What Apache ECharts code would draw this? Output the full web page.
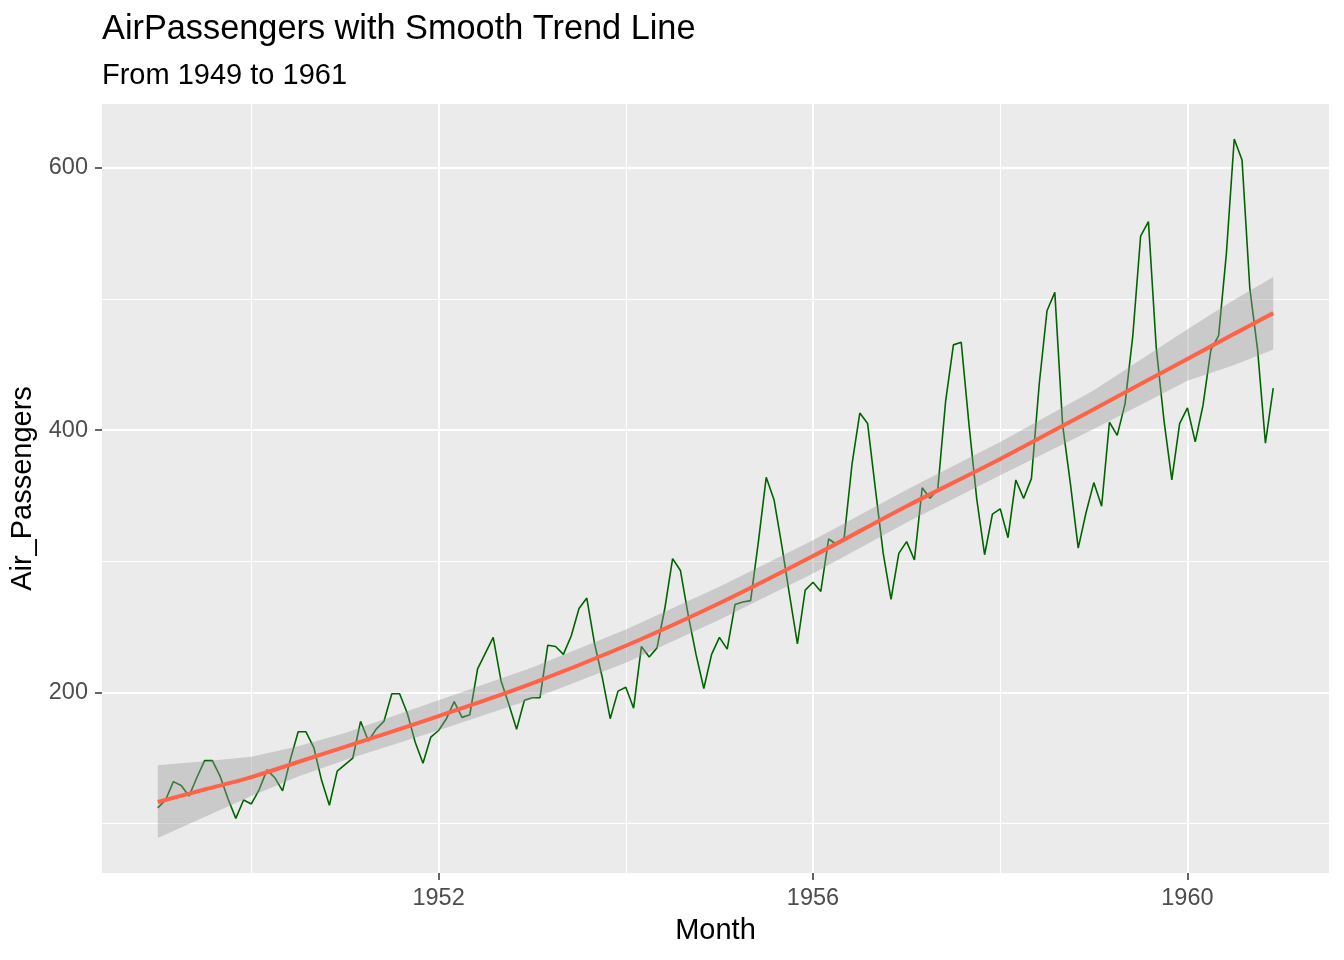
<!DOCTYPE html>
<html>
<head>
<meta charset="utf-8">
<script src="https://cdn.jsdelivr.net/npm/echarts@6/dist/echarts.min.js"></script>
<style>
html,body{margin:0;padding:0;background:#fff;}
#chart{width:1344px;height:960px;}
</style>
</head>
<body>
<div id="chart"></div>
<script>
// ---- Data (AirPassengers, monthly, 1949-1960) ----
const startYear = 1949;
const p1949 = [112, 118, 132, 129, 121, 135, 148, 148, 136, 119, 104, 118];
const p1950 = [115, 126, 141, 135, 125, 149, 170, 170, 158, 133, 114, 140];
const p1951 = [145, 150, 178, 163, 172, 178, 199, 199, 184, 162, 146, 166];
const p1952 = [171, 180, 193, 181, 183, 218, 230, 242, 209, 191, 172, 194];
const p1953 = [196, 196, 236, 235, 229, 243, 264, 272, 237, 211, 180, 201];
const p1954 = [204, 188, 235, 227, 234, 264, 302, 293, 259, 229, 203, 229];
const p1955 = [242, 233, 267, 269, 270, 315, 364, 347, 312, 274, 237, 278];
const p1956 = [284, 277, 317, 313, 318, 374, 413, 405, 355, 306, 271, 306];
const p1957 = [315, 301, 356, 348, 355, 422, 465, 467, 404, 347, 305, 336];
const p1958 = [340, 318, 362, 348, 363, 435, 491, 505, 404, 359, 310, 337];
const p1959 = [360, 342, 406, 396, 420, 472, 548, 559, 463, 407, 362, 405];
const p1960 = [417, 391, 419, 461, 472, 535, 622, 606, 508, 461, 390, 432];
const yearly = [p1949, p1950, p1951, p1952, p1953, p1954, p1955, p1956, p1957, p1958, p1959, p1960];

// ---- Smooth trend (loess) ----
const trendX     = [1949, 1949.5, 1950, 1950.5, 1951, 1952, 1953, 1954, 1955, 1956, 1957, 1958, 1959, 1960, 1960.5, 1960.917];
const trendFit   = [116.5, 126, 135.5, 147, 158.5, 182, 207, 235.6, 268, 304, 342, 378, 416, 454.3, 473.4, 489.2];
const trendLower = [89, 105, 121, 136, 148.5, 171.2, 195, 222.6, 255.5, 290.6, 329.5, 365.6, 400.8, 437.7, 449.7, 461.4];
const trendUpper = [144.5, 147.5, 151, 159, 169, 194, 219, 248, 280.5, 316, 354.5, 391, 430.5, 477, 499.5, 516.8];

// ---- Axis ticks ----
const xMajorTicks = [1952, 1956, 1960];
const xMinorTicks = [1950, 1952, 1954, 1956, 1958, 1960];
const yMajorTicks = [200, 400, 600];
const yMinorTicks = [100, 200, 300, 400, 500, 600];

// ---- Build series data ----
const passengerPoints = [];
yearly.forEach((arr, yi) => {
  arr.forEach((v, m) => passengerPoints.push([startYear + yi + m / 12, v]));
});
const bandPoints = trendX.map((x, i) => [x, trendLower[i], trendUpper[i]]);
const fitPoints = trendX.map((x, i) => [x, trendFit[i]]);

const FONT = "'Liberation Sans', Arial, sans-serif";
const xMin = 1948.404, xMax = 1961.5125;
const yMin = 62.35, yMax = 648.65;

const chart = echarts.init(document.getElementById('chart'), null, {renderer: 'canvas'});
chart.setOption({
  animation: false,
  backgroundColor: '#ffffff',
  title: [
    {text: 'AirPassengers with Smooth Trend Line', left: 102, top: 13, padding: 0,
     textStyle: {fontFamily: FONT, fontSize: 34.3, fontWeight: 'normal', color: '#000'}},
    {text: 'From 1949 to 1961', left: 102, top: 61, padding: 0,
     textStyle: {fontFamily: FONT, fontSize: 29, fontWeight: 'normal', color: '#000'}}
  ],
  grid: {left: 102, right: 15, top: 104, bottom: 87, show: true, backgroundColor: '#EBEBEB', borderWidth: 0},
  xAxis: [
    {
      type: 'value', min: xMin, max: xMax,
      name: 'Month', nameLocation: 'middle', nameGap: 43,
      nameTextStyle: {fontFamily: FONT, fontSize: 29, color: '#000'},
      axisLine: {show: false},
      axisTick: {show: true, length: 7, customValues: xMajorTicks, lineStyle: {color: '#333333', width: 1.5}},
      axisLabel: {customValues: xMajorTicks,
                  fontFamily: FONT, fontSize: 23.5, color: '#4D4D4D', margin: 14,
                  formatter: v => String(Math.round(v))},
      splitLine: {show: true, lineStyle: {color: '#ffffff', width: 2}}
    },
    {
      type: 'value', min: xMin, max: xMax, position: 'top',
      axisLine: {show: false},
      axisTick: {show: false, customValues: xMinorTicks},
      axisLabel: {show: false, customValues: xMinorTicks},
      splitLine: {show: true, lineStyle: {color: '#ffffff', width: 1.1}}
    }
  ],
  yAxis: [
    {
      type: 'value', min: yMin, max: yMax,
      name: 'Air_Passengers', nameLocation: 'middle', nameGap: 54, nameRotate: 90,
      nameTextStyle: {fontFamily: FONT, fontSize: 29, color: '#000'},
      axisLine: {show: false},
      axisTick: {show: true, length: 7, customValues: yMajorTicks, lineStyle: {color: '#333333', width: 1.5}},
      axisLabel: {customValues: yMajorTicks,
                  fontFamily: FONT, fontSize: 23.5, color: '#4D4D4D', margin: 14,
                  formatter: v => String(Math.round(v))},
      splitLine: {show: true, lineStyle: {color: '#ffffff', width: 2}}
    },
    {
      type: 'value', min: yMin, max: yMax, position: 'right',
      axisLine: {show: false},
      axisTick: {show: false, customValues: yMinorTicks},
      axisLabel: {show: false, customValues: yMinorTicks},
      splitLine: {show: true, lineStyle: {color: '#ffffff', width: 1.1}}
    }
  ],
  series: [
    {
      name: 'Air_Passengers', type: 'line', xAxisIndex: 0, yAxisIndex: 0,
      data: passengerPoints, showSymbol: false, symbol: 'none',
      lineStyle: {color: '#006400', width: 1.6}, z: 2, silent: true
    },
    {
      name: 'se_band', type: 'custom', xAxisIndex: 0, yAxisIndex: 0,
      data: bandPoints, encode: {x: 0, y: [1, 2]}, z: 3, silent: true,
      renderItem: function (params, api) {
        if (params.dataIndex !== 0) return null;
        const pts = [];
        for (let i = 0; i < bandPoints.length; i++) pts.push(api.coord([bandPoints[i][0], bandPoints[i][2]]));
        for (let i = bandPoints.length - 1; i >= 0; i--) pts.push(api.coord([bandPoints[i][0], bandPoints[i][1]]));
        return {type: 'polygon', shape: {points: pts}, style: {fill: 'rgba(153,153,153,0.4)'}};
      }
    },
    {
      name: 'trend', type: 'line', xAxisIndex: 0, yAxisIndex: 0,
      data: fitPoints, symbol: 'none', smooth: 0.35,
      lineStyle: {color: '#FF6347', width: 4}, z: 4, silent: true
    }
  ]
});
</script>
</body>
</html>
